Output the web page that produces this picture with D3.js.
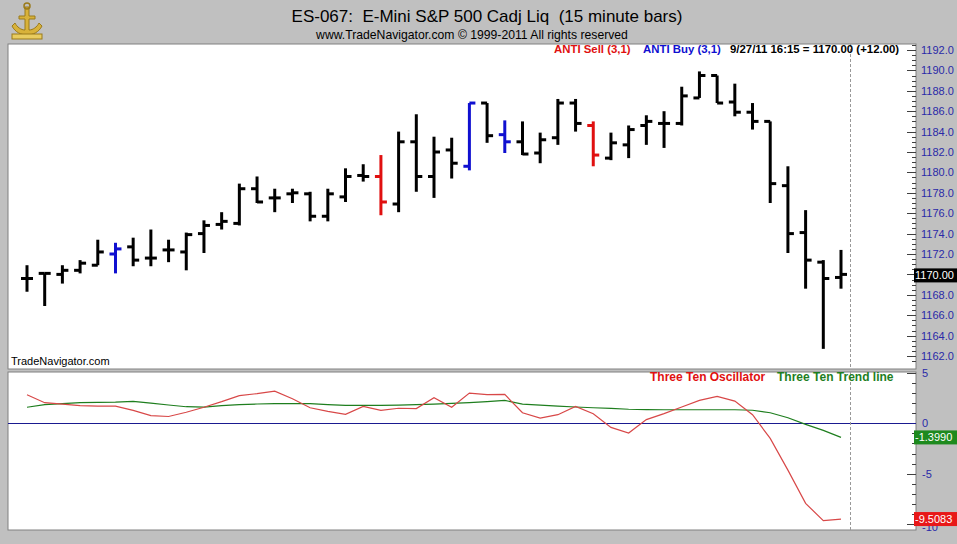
<!DOCTYPE html>
<html>
<head>
<meta charset="utf-8">
<script src="https://cdn.jsdelivr.net/npm/d3@7"></script>
<style>
  body { margin: 0; background: #c0c0c0; }
  svg { display: block; font-family: "Liberation Sans", Arial, sans-serif; }
</style>
</head>
<body>
<script>
// 15 minute bars, open / high / low / close
var opens  = [1169.6, 1170.1, 1170.0, 1170.4, 1170.9, 1172.0, 1172.7, 1171.6, 1172.4, 1172.2,
              1174.0, 1174.9, 1175.0, 1178.4, 1177.5, 1177.9, 1177.9, 1175.7, 1177.6, 1179.7,
              1179.6, 1176.9, 1183.0, 1179.6, 1182.2, 1180.6, 1186.8, 1183.7, 1183.0, 1181.9,
              1183.4, 1186.8, 1184.6, 1181.4, 1182.7, 1184.6, 1184.8, 1184.8, 1187.3, 1189.5,
              1186.9, 1185.9, 1185.0, 1178.7, 1174.1, 1171.2, 1169.7];
var highs  = [1170.9, 1170.1, 1170.9, 1171.4, 1173.4, 1173.1, 1173.6, 1174.4, 1173.4, 1174.1,
              1175.3, 1176.1, 1178.9, 1179.6, 1178.4, 1178.4, 1178.1, 1178.4, 1180.4, 1180.8,
              1181.7, 1184.0, 1185.7, 1183.5, 1183.4, 1186.8, 1186.8, 1185.1, 1185.0, 1183.9,
              1187.2, 1187.2, 1185.0, 1183.9, 1184.6, 1185.6, 1186.0, 1188.4, 1189.9, 1189.5,
              1188.7, 1186.8, 1185.0, 1180.6, 1176.3, 1171.4, 1172.4];
var lows   = [1168.3, 1166.9, 1169.1, 1170.1, 1170.9, 1170.1, 1170.8, 1170.8, 1171.2, 1170.4,
              1172.1, 1174.4, 1174.8, 1177.0, 1176.1, 1177.0, 1175.2, 1175.2, 1177.1, 1179.1,
              1175.8, 1176.1, 1178.1, 1177.5, 1179.4, 1180.2, 1182.9, 1181.9, 1181.7, 1180.9,
              1182.7, 1184.0, 1180.6, 1181.2, 1181.4, 1182.7, 1182.4, 1184.6, 1187.3, 1186.8,
              1185.5, 1184.2, 1177.0, 1172.1, 1168.6, 1162.7, 1168.6];
var closes = [1169.6, 1170.1, 1170.4, 1171.1, 1172.2, 1172.5, 1171.4, 1171.6, 1172.4, 1173.9,
              1174.8, 1175.2, 1178.4, 1177.1, 1177.5, 1178.0, 1175.7, 1177.9, 1179.6, 1179.6,
              1177.1, 1183.0, 1179.6, 1182.0, 1180.9, 1186.8, 1183.6, 1183.0, 1181.8, 1183.2,
              1186.8, 1184.8, 1181.7, 1182.9, 1184.2, 1185.0, 1184.8, 1187.5, 1189.5, 1186.8,
              1185.9, 1185.0, 1178.9, 1174.0, 1171.4, 1169.6, 1170.0];
// ANTI signal bars
var sellBars = [20, 32];
var buyBars  = [5, 25, 27];

// Three Ten indicator
var oscillator = [2.84, 2.05, 1.9, 1.75, 1.7, 1.71, 1.29, 0.77, 0.68, 1.1,
                  1.6, 2.15, 2.75, 2.95, 3.2, 2.45, 1.55, 1.18, 0.9, 1.68,
                  1.29, 1.5, 1.46, 2.54, 1.6, 3.0, 2.85, 2.87, 1.05, 0.52,
                  0.86, 1.68, 0.95, -0.4, -0.96, 0.37, 0.96, 1.62, 2.28, 2.67,
                  2.21, 0.86, -1.5, -4.65, -7.95, -9.67, -9.5083];
var trendLine  = [1.6, 1.85, 1.95, 2.05, 2.08, 2.1, 2.18, 2.0, 1.82, 1.65,
                  1.62, 1.75, 1.85, 1.92, 1.95, 1.95, 1.95, 1.85, 1.78, 1.78,
                  1.78, 1.8, 1.85, 1.9, 1.98, 2.05, 2.15, 2.28, 1.9, 1.8,
                  1.7, 1.62, 1.55, 1.48, 1.4, 1.36, 1.35, 1.35, 1.35, 1.35,
                  1.35, 1.3, 1.05, 0.55, -0.1, -0.7, -1.399];

var priceTicks = d3.range(1162, 1193, 2);
var oscTicks = [5, 0, -5, -10];

var W = 957, H = 544;
var svg = d3.select(document.body).append("svg")
    .attr("width", W)
    .attr("height", H);

svg.append("rect").attr("width", W).attr("height", H).attr("fill", "#c0c0c0");

// header
var logo = svg.append("g").attr("transform", "translate(27,22)");
logo.append("path")
    .attr("d", "M-2,-15 L2,-15 L2,-6 L8,-6 L8,-3 L2,-3 L2,8 C6,8 10,5 12,1 L15,4 C12,10 6,13 0,13 C-6,13 -12,10 -15,4 L-12,1 C-10,5 -6,8 -2,8 L-2,-3 L-8,-3 L-8,-6 L-2,-6 Z")
    .attr("fill", "#d8b23a").attr("stroke", "#9a7a1a").attr("stroke-width", 1);
logo.append("circle").attr("cy", -16).attr("r", 3).attr("fill", "none").attr("stroke", "#9a7a1a").attr("stroke-width", 1.5);
logo.append("rect").attr("x", -15).attr("y", 12).attr("width", 30).attr("height", 5).attr("fill", "#e8cc60").attr("stroke", "#9a7a1a");

svg.append("text")
    .attr("x", 487).attr("y", 22)
    .attr("text-anchor", "middle")
    .attr("font-size", 17)
    .attr("fill", "#000")
    .attr("xml:space", "preserve")
    .text("ES-067:  E-Mini S&P 500 Cadj Liq  (15 minute bars)");
svg.append("text")
    .attr("x", 472).attr("y", 39)
    .attr("text-anchor", "middle")
    .attr("font-size", 12.2)
    .attr("fill", "#000")
    .text("www.TradeNavigator.com \u00a9 1999-2011 All rights reserved");

// panels
var left = 8, right = 916;
var top1 = 44, bot1 = 369, top2 = 372, bot2 = 530;

svg.append("rect").attr("x", left).attr("y", top1).attr("width", right - left).attr("height", bot1 - top1)
    .attr("fill", "#fff").attr("stroke", "#808080");
svg.append("rect").attr("x", left).attr("y", top2).attr("width", right - left).attr("height", bot2 - top2)
    .attr("fill", "#fff").attr("stroke", "#808080");

var x = d3.scalePoint().domain(d3.range(opens.length)).range([27, 841]);
var y = d3.scaleLinear().domain([1162, 1192]).range([356, 50]);
var y2 = d3.scaleLinear().domain([-10, 5]).range([524, 373]);

// right price axis
var axis1 = svg.append("g").attr("transform", "translate(" + right + ",0)");
axis1.selectAll("line.minor")
    .data(d3.range(1161.5, 1192.6, 0.5))
    .join("line")
    .attr("x1", -4).attr("x2", 0)
    .attr("y1", (d) => Math.round(y(d)) + 0.5).attr("y2", (d) => Math.round(y(d)) + 0.5)
    .attr("stroke", "#404040");
axis1.selectAll("line.major")
    .data(priceTicks)
    .join("line")
    .attr("x1", -9).attr("x2", 0)
    .attr("y1", (d) => Math.round(y(d)) + 0.5).attr("y2", (d) => Math.round(y(d)) + 0.5)
    .attr("stroke", "#404040");
axis1.selectAll("text")
    .data(priceTicks.filter((d) => d !== 1170))
    .join("text")
    .attr("x", 5).attr("y", (d) => y(d) + 4)
    .attr("font-size", 11)
    .attr("fill", "#2a2aa8")
    .text((d) => d3.format(".1f")(d));

// current value box
svg.append("rect").attr("x", 914).attr("y", y(closes[closes.length - 1]) - 6).attr("width", 43).attr("height", 14).attr("fill", "#000");
svg.append("text").attr("x", 915).attr("y", y(closes[closes.length - 1]) + 5)
    .attr("font-size", 11).attr("fill", "#fff").text("1170.00");

// lower axis
var axis2 = svg.append("g").attr("transform", "translate(" + right + ",0)");
axis2.selectAll("line")
    .data(d3.range(-10, 5.1, 1))
    .join("line")
    .attr("x1", (d) => d % 5 === 0 ? -9 : -4).attr("x2", 0)
    .attr("y1", (d) => Math.round(y2(d)) + 0.5).attr("y2", (d) => Math.round(y2(d)) + 0.5)
    .attr("stroke", "#404040");
axis2.selectAll("text")
    .data(oscTicks)
    .join("text")
    .attr("x", 6).attr("y", (d) => y2(d) + (d === -10 ? 7 : 4))
    .attr("font-size", 11)
    .attr("fill", "#2a2aa8")
    .text((d) => d);

// zero line
svg.append("line")
    .attr("x1", left).attr("x2", right)
    .attr("y1", Math.round(y2(0)) + 0.5).attr("y2", Math.round(y2(0)) + 0.5)
    .attr("stroke", "#1a1a90").attr("stroke-width", 1.2);

// dotted cursor line
[[top1, bot1], [top2, bot2]].forEach(function (p) {
    svg.append("line")
        .attr("x1", 850.5).attr("x2", 850.5)
        .attr("y1", p[0]).attr("y2", p[1])
        .attr("stroke", "#999").attr("stroke-dasharray", "3,2");
});

// bars
var colorOf = function (i) {
    if (sellBars.indexOf(i) >= 0) return "#e01010";
    if (buyBars.indexOf(i) >= 0) return "#1010d0";
    return "#000";
};
var bars = svg.append("g")
    .selectAll("g")
    .data(d3.range(opens.length))
    .join("g")
    .attr("stroke", colorOf)
    .attr("stroke-width", 3);
bars.append("line")
    .attr("x1", (i) => x(i)).attr("x2", (i) => x(i))
    .attr("y1", (i) => y(highs[i])).attr("y2", (i) => y(lows[i]));
bars.append("line")
    .attr("x1", (i) => x(i) - 6).attr("x2", (i) => x(i))
    .attr("y1", (i) => y(opens[i])).attr("y2", (i) => y(opens[i]));
bars.append("line")
    .attr("x1", (i) => x(i)).attr("x2", (i) => x(i) + 6)
    .attr("y1", (i) => y(closes[i])).attr("y2", (i) => y(closes[i]));

// indicator lines
var line = d3.line().x((d, i) => x(i)).y((d) => y2(d));
svg.append("path").datum(trendLine).attr("d", line)
    .attr("fill", "none").attr("stroke", "#1e7e1e").attr("stroke-width", 1.2);
svg.append("path").datum(oscillator).attr("d", line)
    .attr("fill", "none").attr("stroke", "#d84848").attr("stroke-width", 1.2);

// value boxes for lower panel
svg.append("rect").attr("x", 914).attr("y", y2(-1.399) - 7).attr("width", 43).attr("height", 14).attr("fill", "#1e8a1e");
svg.append("text").attr("x", 915).attr("y", y2(-1.399) + 4).attr("font-size", 11).attr("fill", "#fff").text("-1.3990");
svg.append("rect").attr("x", 914).attr("y", y2(-9.5083) - 7).attr("width", 43).attr("height", 14).attr("fill", "#e81818");
svg.append("text").attr("x", 915).attr("y", y2(-9.5083) + 4).attr("font-size", 11).attr("fill", "#fff").text("-9.5083");

// legends
var leg1 = svg.append("text").attr("y", 53).attr("font-size", 11.4).attr("font-weight", "bold");
leg1.append("tspan").attr("x", 554).attr("fill", "#e01010").text("ANTI Sell (3,1)");
leg1.append("tspan").attr("x", 643).attr("fill", "#1010d0").text("ANTI Buy (3,1)");
leg1.append("tspan").attr("x", 730).attr("fill", "#000").text("9/27/11 16:15 = 1170.00 (+12.00)");

var leg2 = svg.append("text").attr("y", 381).attr("font-size", 12).attr("font-weight", "bold");
leg2.append("tspan").attr("x", 650).attr("fill", "#e01010").text("Three Ten Oscillator");
leg2.append("tspan").attr("x", 777).attr("fill", "#1e7e1e").text("Three Ten Trend line");

svg.append("text").attr("x", 11).attr("y", 365).attr("font-size", 11).attr("fill", "#000").text("TradeNavigator.com");
</script>
</body>
</html>
